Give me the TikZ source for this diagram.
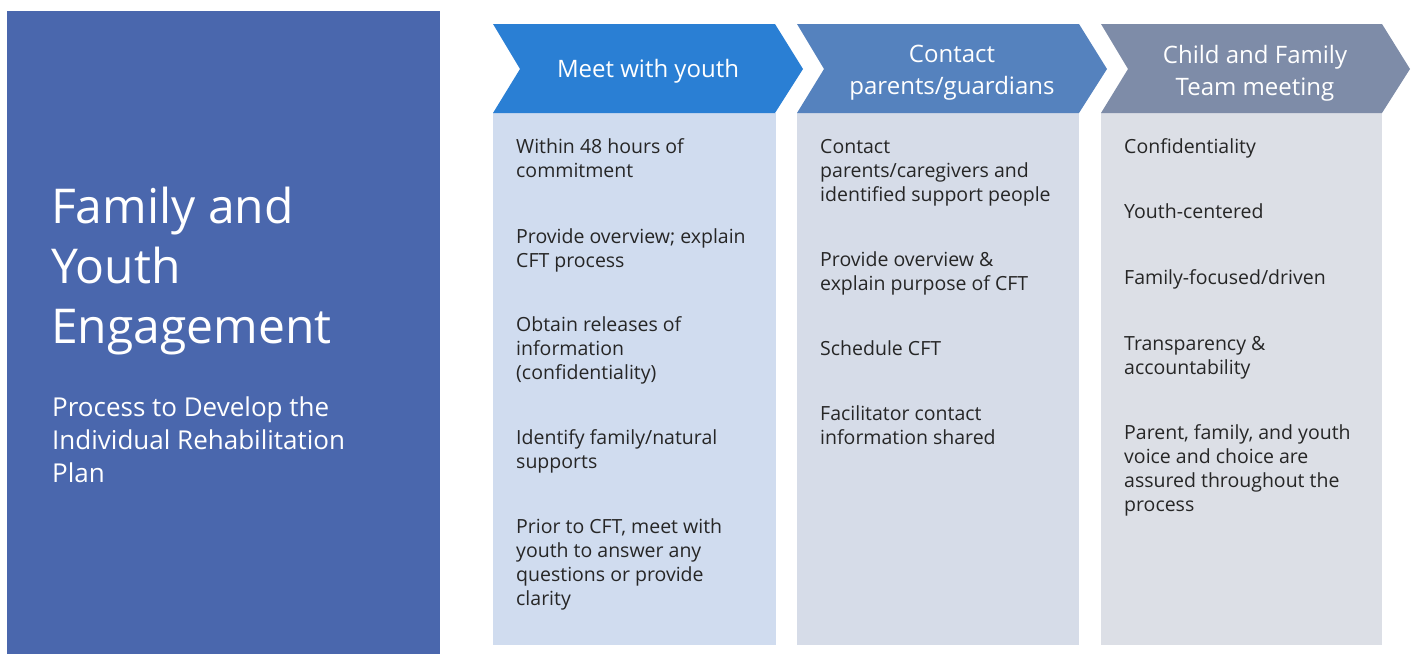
\documentclass[tikz,border=0pt]{standalone}
\usepackage{fontspec}
\setmainfont{Open Sans}
\definecolor{leftbg}{HTML}{4A67AD}
\definecolor{chevA}{HTML}{2A7FD4}
\definecolor{chevB}{HTML}{5582BE}
\definecolor{chevC}{HTML}{7E8CA8}
\definecolor{bodyA}{HTML}{D0DCEF}
\definecolor{bodyB}{HTML}{D6DCE8}
\definecolor{bodyC}{HTML}{DCDFE6}
\definecolor{txt}{HTML}{262626}
\tikzset{
  item/.style={anchor=base west, align=left, inner sep=0pt, text=txt,
    font=\fontsize{19.5}{24}\selectfont},
  head/.style={align=center, inner sep=0pt, text=white,
    font=\fontsize{24}{32}\selectfont},
}
\begin{document}
\begin{tikzpicture}[x=1pt,y=-1pt]
\useasboundingbox (0,0) rectangle (1413,654);
% left panel
\fill[leftbg] (7,11) rectangle (440,654);
\node[anchor=base west, align=left, inner sep=0pt, text=white,
  font=\fontsize{48}{60}\selectfont] (title) at (51,343)
  {Family and\\Youth\\Engagement};
\node[anchor=base west, align=left, inner sep=0pt, text=white,
  font=\fontsize{26}{33}\selectfont] (sub) at (52,482)
  {Process to Develop the\\Individual Rehabilitation\\Plan};
% bodies
\fill[bodyA] (493,113) rectangle (776,645);
\fill[bodyB] (797,113) rectangle (1079,645);
\fill[bodyC] (1101,113) rectangle (1382,645);
% chevrons
\fill[chevA] (493,24) -- (775,24) -- (803,69) -- (775,113) -- (493,113) -- (520,69) -- cycle;
\fill[chevB] (797,24) -- (1079,24) -- (1107,69) -- (1079,113) -- (797,113) -- (824,69) -- cycle;
\fill[chevC] (1101,24) -- (1382,24) -- (1410,69) -- (1382,113) -- (1101,113) -- (1128,69) -- cycle;
\node[head] (h1) at (648,71) {Meet with youth};
\node[head] (h2) at (952,73) {Contact\\parents/guardians};
\node[head] (h3) at (1255,73) {Child and Family\\Team meeting};
% column 1
\node[item] (a1) at (516,177) {Within 48 hours of\\commitment};
\node[item] (a2) at (516,267) {Provide overview; explain\\CFT process};
\node[item] (a3) at (516,379) {Obtain releases of\\information\\(confidentiality)};
\node[item] (a4) at (516,468) {Identify family/natural\\supports};
\node[item] (a5) at (516,605) {Prior to CFT, meet with\\youth to answer any\\questions or provide\\clarity};
% column 2
\node[item] (b1) at (820,201) {Contact\\parents/caregivers and\\identified support people};
\node[item] (b2) at (820,290) {Provide overview \&\\explain purpose of CFT};
\node[item] (b3) at (820,355) {Schedule CFT};
\node[item] (b4) at (820,444) {Facilitator contact\\information shared};
% column 3
\node[item] (c1) at (1124,153) {Confidentiality};
\node[item] (c2) at (1124,218) {Youth-centered};
\node[item] (c3) at (1124,284) {Family-focused/driven};
\node[item] (c4) at (1124,374) {Transparency \&\\accountability};
\node[item] (c5) at (1124,511) {Parent, family, and youth\\voice and choice are\\assured throughout the\\process};
\end{tikzpicture}
\end{document}
